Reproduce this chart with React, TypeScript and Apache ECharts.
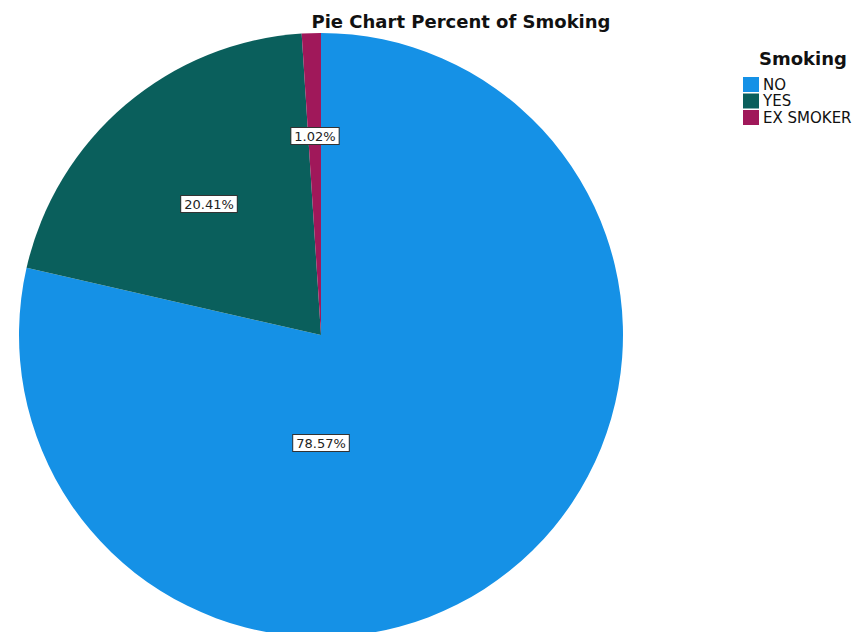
import React, { useEffect, useRef } from "react";
import * as echarts from "echarts";

const categories = ["NO", "YES", "EX SMOKER"];
const percents = [78.57, 20.41, 1.02];
const colors = ["#1591e6", "#0a5f5c", "#a0185a"];
// label offsets from pie centre (SPSS-style placement)
const labelOffsets: [number, number][] = [
  [0, 108],
  [-112, -131],
  [-6, -199],
];

const CX = 321;
const CY = 335;

export default function App() {
  const ref = useRef<HTMLDivElement>(null);
  useEffect(() => {
    document.body.style.margin = "0";
    const chart = echarts.init(ref.current!, null, { renderer: "svg" });
    chart.setOption({
      animation: false,
      backgroundColor: "#ffffff",
      title: [
        {
          text: "Pie Chart Percent of Smoking",
          left: 456,
          top: 7,
          textAlign: "center",
          textStyle: { fontFamily: "DejaVu Sans", fontWeight: "bold", fontSize: 18, color: "#111" },
        },
        {
          text: "Smoking",
          left: 754,
          top: 44,
          textStyle: { fontFamily: "DejaVu Sans", fontWeight: "bold", fontSize: 18, color: "#111" },
        },
      ],
      legend: {
        orient: "vertical",
        left: 743,
        top: 77,
        padding: 0,
        itemWidth: 16,
        itemHeight: 15,
        itemGap: 1.5,
        icon: "rect",
        textStyle: {
          fontFamily: "DejaVu Sans",
          fontSize: 15,
          lineHeight: 15,
          color: "#111",
          padding: [0, 0, 0, -1],
        },
        data: categories,
      },
      series: [
        {
          type: "pie",
          center: [CX, CY],
          radius: 302,
          startAngle: 90,
          clockwise: true,
          silent: true,
          itemStyle: { borderWidth: 0 },
          label: {
            show: true,
            position: "inside",
            formatter: (p: any) => p.value.toFixed(2) + "%",
            fontFamily: "DejaVu Sans",
            fontSize: 13,
            color: "#222",
            backgroundColor: "#ffffff",
            borderColor: "#333",
            borderWidth: 1,
            padding: [2, 3, 1, 3],
          },
          labelLine: { show: false },
          labelLayout: (params: any) => {
            const o = labelOffsets[params.dataIndex];
            return { x: CX + o[0], y: CY + o[1], align: "center", verticalAlign: "middle" };
          },
          data: categories.map((c, i) => ({
            name: c,
            value: percents[i],
            itemStyle: { color: colors[i] },
          })),
        },
      ],
    });
    return () => chart.dispose();
  }, []);
  return <div ref={ref} style={{ width: 858, height: 632 }} />;
}
